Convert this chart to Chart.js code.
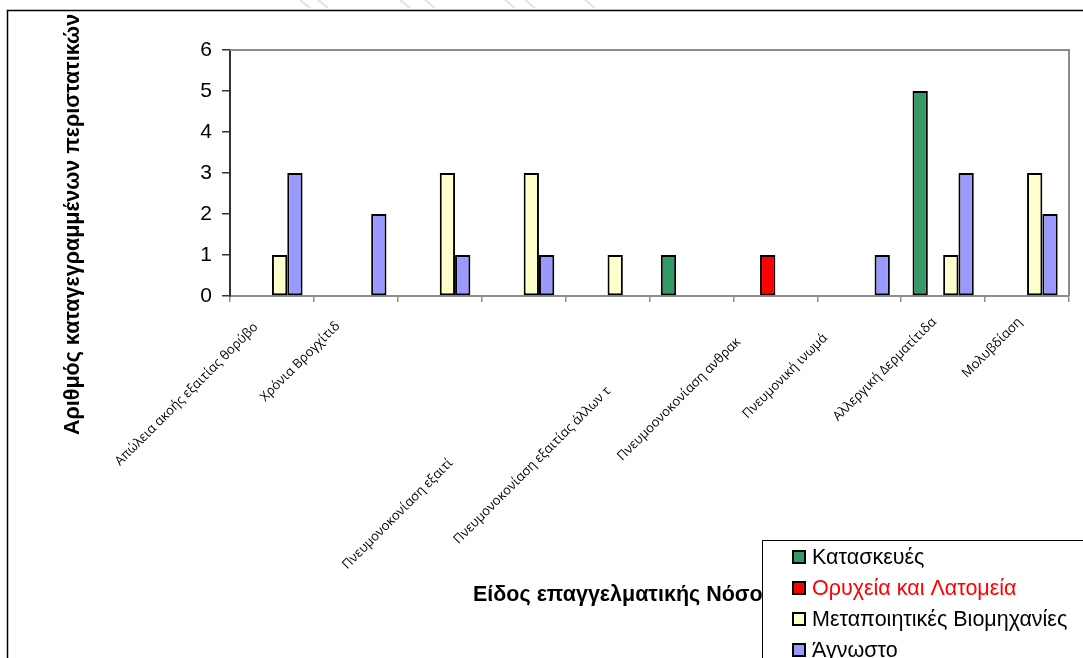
<!DOCTYPE html>
<html lang="el">
<head>
<meta charset="utf-8">
<title>Επαγγελματικές Νόσοι</title>
<script src="https://cdn.jsdelivr.net/npm/chart.js@4.4.1/dist/chart.umd.min.js"></script>
<style>
  html, body { margin: 0; padding: 0; background: #ffffff; }
  #wrap { position: relative; width: 1083px; height: 658px; }
  canvas { display: block; }
</style>
</head>
<body>
<div id="wrap"><canvas id="chart" width="1083" height="658"></canvas></div>
<script>
// Categories (occupational disease), as printed under the axis
const categories = [
  'Απώλεια ακοής εξαιτίας θορύβο',
  'Χρόνια Βρογχίτιδ',
  'Πνευμονοκονίαση εξαιτί',
  'Πνευμονοκονίαση εξαιτίας άλλων τ',
  '',
  '',
  'Πνευμοονοκονίαση ανθρακ',
  'Πνευμονική ινωμά',
  'Αλλεργική Δερματίτιδα',
  'Μολυβδίαση'
];

// Series names
const seriesNames = ['Κατασκευές', 'Ορυχεία και Λατομεία', 'Μεταποιητικές Βιομηχανίες', 'Άγνωστο'];

// Recorded cases per sector
const constructionCases   = [null, null, null, null, null, 1, null, null, 5, null];
const miningCases         = [null, null, null, null, null, null, 1, null, null, null];
const manufacturingCases  = [1, null, 3, 3, 1, null, null, null, 1, 3];
const unknownCases        = [3, 2, 1, 1, null, null, null, 1, 3, 2];

// Y axis ticks
const yTicks = [0, 1, 2, 3, 4, 5, 6];

// Axis titles
const yTitle = 'Αριθμός καταγεγραμμένων περιστατικών';
const xTitle = 'Είδος επαγγελματικής Νόσου';

// Styling
const fillColors = ['#339966', '#FF0000', '#FFFFCC', '#9999FF'];
const legendTextColors = ['#000000', '#FF0000', '#000000', '#000000'];
// where each rotated category label ends, relative to its category centre / axis line
const labelAnchor = [[-16, 29], [-18, 28], [11, 165], [85, 93], null, null, [-37, 44], [-34, 40], [-9, 24], [-7, 24]];

const ARIAL = '"Liberation Sans", Arial, sans-serif';
const LABEL_FONT = '"Open Sans", sans-serif';

const seriesData = [constructionCases, miningCases, manufacturingCases, unknownCases];

const decorations = {
  id: 'decorations',
  beforeDraw(chart) {
    const ctx = chart.ctx;
    ctx.save();
    ctx.fillStyle = '#ffffff';
    ctx.fillRect(0, 0, chart.width, chart.height);
    // faint page marks above the frame
    ctx.strokeStyle = 'rgba(170,170,170,0.35)';
    ctx.lineWidth = 2;
    [[300, 0], [318, 0], [400, 0], [425, 0], [505, 0], [525, 0], [585, 0]].forEach(p => {
      ctx.beginPath();
      ctx.moveTo(p[0], p[1]);
      ctx.lineTo(p[0] + 10, p[1] + 8);
      ctx.stroke();
    });
    ctx.restore();
  },
  afterDraw(chart) {
    const ctx = chart.ctx;
    const area = chart.chartArea;
    const xs = chart.scales.x;

    // plot-area frame (top and right)
    ctx.save();
    ctx.strokeStyle = '#8c8c8c';
    ctx.lineWidth = 2;
    ctx.beginPath();
    ctx.moveTo(area.left, area.top);
    ctx.lineTo(area.right, area.top);
    ctx.lineTo(area.right, area.bottom);
    ctx.stroke();
    ctx.restore();

    // outer chart frame
    ctx.save();
    ctx.strokeStyle = '#000000';
    ctx.lineWidth = 1.5;
    ctx.beginPath();
    ctx.moveTo(7.5, chart.height + 5);
    ctx.lineTo(7.5, 10.5);
    ctx.lineTo(chart.width + 5, 10.5);
    ctx.stroke();
    ctx.restore();

    // rotated category labels
    ctx.save();
    ctx.fillStyle = '#000000';
    ctx.font = '13px ' + LABEL_FONT;
    ctx.textAlign = 'right';
    ctx.textBaseline = 'middle';
    categories.forEach((name, i) => {
      const a = labelAnchor[i];
      if (!name || !a) return;
      const cx = xs.getPixelForValue(i);
      ctx.save();
      ctx.translate(cx + a[0], area.bottom + a[1]);
      ctx.rotate(-Math.PI / 4);
      ctx.fillText(name, 0, 0);
      ctx.restore();
    });
    ctx.restore();

    // y axis title (clipped by the outer frame)
    ctx.save();
    ctx.beginPath();
    ctx.rect(8, 11, chart.width, chart.height);
    ctx.clip();
    ctx.translate(79, 435);
    ctx.rotate(-Math.PI / 2);
    ctx.font = 'bold 21.5px ' + ARIAL;
    ctx.fillStyle = '#000000';
    ctx.textAlign = 'left';
    ctx.textBaseline = 'alphabetic';
    ctx.fillText(yTitle, 0, 0);
    ctx.restore();

    // x axis title
    ctx.save();
    ctx.font = 'bold 21.5px ' + ARIAL;
    ctx.fillStyle = '#000000';
    ctx.textAlign = 'left';
    ctx.textBaseline = 'alphabetic';
    ctx.fillText(xTitle, 473, 601);
    ctx.restore();

    // legend box, drawn over the axis title
    ctx.save();
    const lx = 762, ly = 540;
    ctx.fillStyle = '#ffffff';
    ctx.fillRect(lx, ly, chart.width - lx + 10, chart.height - ly + 10);
    ctx.strokeStyle = '#000000';
    ctx.lineWidth = 1;
    ctx.beginPath();
    ctx.moveTo(lx + 0.5, chart.height + 5);
    ctx.lineTo(lx + 0.5, ly + 0.5);
    ctx.lineTo(chart.width + 5, ly + 0.5);
    ctx.stroke();
    ctx.font = '21.5px ' + ARIAL;
    ctx.textAlign = 'left';
    ctx.textBaseline = 'middle';
    chart.data.datasets.forEach((ds, i) => {
      const cy = 557 + i * 31;
      ctx.fillStyle = ds.backgroundColor;
      ctx.fillRect(793, cy - 6, 12, 12);
      ctx.strokeStyle = '#000000';
      ctx.lineWidth = 2;
      ctx.strokeRect(793, cy - 6, 12, 12);
      ctx.fillStyle = legendTextColors[i];
      ctx.fillText(ds.label, 812, cy + 1);
    });
    ctx.restore();
  }
};

new Chart(document.getElementById('chart'), {
  type: 'bar',
  data: {
    labels: categories,
    datasets: seriesNames.map((name, i) => ({
      label: name,
      data: seriesData[i],
      backgroundColor: fillColors[i],
      borderColor: '#000000',
      borderWidth: 2,
      borderSkipped: false,
      categoryPercentage: 0.73,
      barPercentage: 1.0
    }))
  },
  options: {
    responsive: false,
    animation: false,
    devicePixelRatio: 1,
    layout: { padding: { left: 0, top: 50, right: 14, bottom: 0 } },
    plugins: {
      legend: { display: false },
      title: { display: false },
      tooltip: { enabled: false }
    },
    scales: {
      x: {
        grid: {
          display: true,
          drawOnChartArea: false,
          drawTicks: true,
          tickLength: 6,
          color: '#8c8c8c',
          lineWidth: 1.5
        },
        border: { display: true, color: '#8c8c8c', width: 2 },
        ticks: { display: false },
        afterFit(scale) { scale.height = 362; }
      },
      y: {
        min: 0,
        max: 6,
        afterBuildTicks(scale) { scale.ticks = yTicks.map(v => ({ value: v })); },
        grid: {
          display: true,
          drawOnChartArea: false,
          drawTicks: true,
          tickLength: 8,
          color: '#333333',
          lineWidth: 1.5
        },
        border: { display: true, color: '#333333', width: 2 },
        ticks: {
          padding: 10,
          color: '#000000',
          font: { family: ARIAL, size: 21 },
          callback: v => String(v)
        },
        afterFit(scale) { scale.width = 230; }
      }
    }
  },
  plugins: [decorations]
});
</script>
</body>
</html>
